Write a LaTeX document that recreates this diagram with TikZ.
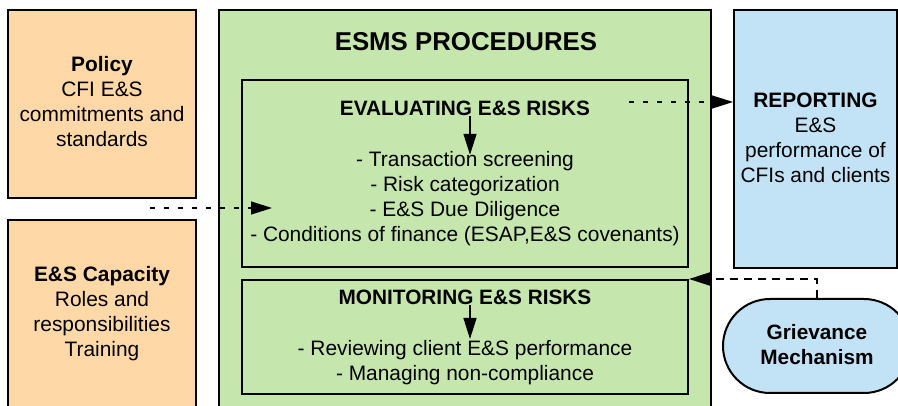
\documentclass[tikz,border=0pt]{standalone}
\usepackage{fontspec}
\setmainfont{Liberation Sans}
\usetikzlibrary{arrows.meta, positioning}
\definecolor{policyorange}{RGB}{254, 216, 166}
\definecolor{procgreen}{RGB}{197, 230, 172}
\definecolor{reportblue}{RGB}{194, 226, 245}

\tikzset{
    box/.style={draw=black, line width=2pt, inner sep=0pt},
    txt/.style={align=center, inner sep=0pt, font=\fontsize{20.9}{25.2}\selectfont},
    ttl/.style={align=center, inner sep=0pt, font=\fontsize{20.8}{25}\selectfont\bfseries},
    tip/.style={-{Triangle[length=21pt, width=13pt]}},
    dotline/.style={line width=1.3pt, dash pattern=on 5pt off 9pt},
    dashline/.style={line width=2pt, dash pattern=on 8pt off 6pt},
}

\begin{document}
\begin{tikzpicture}[x=1pt, y=-1pt]
    \useasboundingbox (0,0) rectangle (898,406);
    \clip (0,0) rectangle (898,406);

    % Left column
    \node[box, fill=policyorange, minimum width=188, minimum height=188] at (102,104) (policy) {};
    \node[txt] at (102,101.5) (policytxt) {\textbf{Policy}\\CFI E\&S\\commitments and\\standards};
    \node[box, fill=policyorange, minimum width=188, minimum height=192] at (102,316) (capacity) {};
    \node[txt] at (102,313.5) (capacitytxt) {\textbf{E\&S Capacity}\\Roles and\\responsibilities\\Training};

    % Procedures
    \node[box, fill=procgreen, minimum width=492, minimum height=410] at (465,215) (esms) {};
    \node[inner sep=0pt, font=\fontsize{25.8}{30}\selectfont\bfseries] at (466,42) (esmstitle) {ESMS PROCEDURES};

    \node[box, minimum width=446, minimum height=187] at (465,173.5) (eval) {};
    \node[ttl] at (465,108.5) (evaltitle) {EVALUATING E\&S RISKS};
    \node[txt] at (465,198.5) (evallist) {- Transaction screening\\- Risk categorization\\- E\&S Due Diligence\\- Conditions of finance (ESAP,E\&S covenants)};

    \node[box, minimum width=446, minimum height=114] at (465,337) (mon) {};
    \node[ttl] at (465,297.5) (montitle) {MONITORING E\&S RISKS};
    \node[txt] at (465,362.5) (monlist) {- Reviewing client E\&S performance\\- Managing non-compliance};

    % Right column
    \node[box, fill=reportblue, minimum width=163, minimum height=258] at (815.5,139) (report) {};
    \node[txt] at (815.5,138) (reporttxt) {\textbf{REPORTING}\\E\&S\\performance of\\CFIs and clients};
    \node[box, fill=reportblue, rounded corners=47, minimum width=188, minimum height=94] at (817,346) (grievance) {};
    \node[ttl] at (817,345) (grievancetxt) {Grievance\\Mechanism};

    % Arrows
    \draw[tip, line width=1.5pt] ([xshift=5pt]evaltitle.south) -- ([xshift=5pt, yshift=-4pt]evallist.north);
    \draw[tip, line width=1.5pt] ([xshift=5pt]montitle.south) -- ([xshift=5pt, yshift=1pt]monlist.north);

    \coordinate (capstart) at (150,208);
    \coordinate (evalin) at (272,208);
    \draw[dotline, tip] (capstart) -- (evalin);

    \coordinate (evalout) at (629,102);
    \draw[dotline, tip] (evalout) -- (evalout -| report.west);

    \draw[dashline, tip] (grievance.north) |- (mon.north east);

\end{tikzpicture}
\end{document}
